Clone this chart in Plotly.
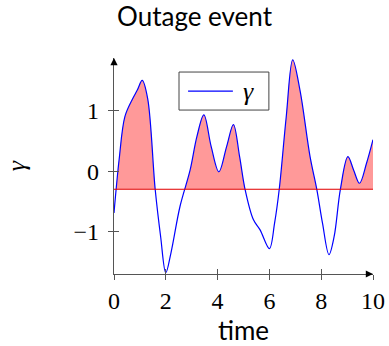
import plotly.graph_objects as go

# ---- data ----
t = [0, 0.2, 0.42, 0.7, 0.9, 1.09, 1.3, 1.59, 1.8, 2.0, 2.2, 2.55, 2.94, 3.2,
     3.47, 3.75, 4.05, 4.35, 4.61, 4.85, 5.06, 5.38, 5.64, 6.0, 6.2, 6.38,
     6.65, 6.9, 7.18, 7.57, 7.83, 8.05, 8.3, 8.5, 8.74, 9.03, 9.25, 9.48,
     9.75, 10]
gamma = [-0.69, 0.2, 0.9, 1.18, 1.34, 1.5, 1.2, -0.3, -1.08, -1.68, -1.35,
         -0.58, 0.02, 0.57, 0.93, 0.41, -0.01, 0.41, 0.77, 0.24, -0.3, -0.8,
         -0.97, -1.28, -0.86, -0.3, 0.9, 1.84, 1.34, 0.24, -0.3, -0.86, -1.38,
         -1.08, -0.3, 0.24, 0.02, -0.2, 0.13, 0.52]
threshold = -0.3
x_range = [0, 10]
y_range = [-1.70, 1.87]
x_ticks = [0, 2, 4, 6, 8, 10]
y_ticks = [-1, 0, 1]
series_name = "γ"

BLUE = "#0000ff"
PINK = "#ff9999"
RED = "#e00000"
AX = "#555555"

fig = go.Figure()
# baseline for fill
fig.add_trace(go.Scatter(x=x_range, y=[threshold, threshold], mode="lines",
                         line=dict(width=0), showlegend=False, hoverinfo="skip"))
# fill between curve and threshold
fig.add_trace(go.Scatter(x=t, y=gamma, mode="lines", line=dict(width=0, shape="spline"),
                         fill="tonexty", fillcolor=PINK, showlegend=False, hoverinfo="skip"))
# mask below threshold
fig.add_trace(go.Scatter(x=x_range, y=[y_range[0], y_range[0]], mode="lines",
                         line=dict(width=0), showlegend=False, hoverinfo="skip"))
fig.add_trace(go.Scatter(x=x_range, y=[threshold, threshold], mode="lines",
                         line=dict(width=0), fill="tonexty", fillcolor="white",
                         showlegend=False, hoverinfo="skip"))
# curve
fig.add_trace(go.Scatter(x=t, y=gamma, mode="lines", name=series_name,
                         line=dict(color=BLUE, width=1.2, shape="spline"),
                         showlegend=False))
# threshold line
fig.add_trace(go.Scatter(x=x_range, y=[threshold, threshold], mode="lines",
                         line=dict(color=RED, width=1.1), showlegend=False))
# invisible trace on overlay axes (for crossing tick marks)
fig.add_trace(go.Scatter(x=[x_range[0]], y=[y_range[0]], xaxis="x2", yaxis="y2",
                         mode="markers", marker=dict(opacity=0), showlegend=False,
                         hoverinfo="skip"))

serif = "Liberation Serif"
sans = "Lato"

fig.update_layout(
    width=389, height=346,
    margin=dict(l=114, r=16, t=58, b=72, autoexpand=False),
    paper_bgcolor="white", plot_bgcolor="white",
    title=dict(text="Outage event", x=0.5, xanchor="center", y=0.95, yanchor="middle",
               font=dict(family=sans, size=26, color="black")),
    xaxis=dict(range=x_range, tickvals=x_ticks, showgrid=False, zeroline=False,
               showline=True, linecolor=AX, linewidth=1.2, ticks="outside",
               ticklen=5, tickcolor=AX, tickwidth=1, automargin=False,
               tickfont=dict(family=serif, size=24, color="black"),
               title=dict(text="time", font=dict(family=sans, size=26, color="black"),
                          standoff=14)),
    yaxis=dict(range=y_range, tickvals=y_ticks, showgrid=False, zeroline=False,
               showline=True, linecolor=AX, linewidth=1.2, ticks="outside",
               ticklen=5, tickcolor=AX, tickwidth=1, automargin=False,
               ticklabelstandoff=4,
               tickfont=dict(family=serif, size=24, color="black"),
               title=dict(text="<i>γ</i>", font=dict(family=serif, size=26, color="black"),
                          standoff=40)),
    xaxis2=dict(range=x_range, tickvals=x_ticks, overlaying="x", anchor="y2",
                showgrid=False, zeroline=False, showline=False, ticks="inside",
                ticklen=5, tickcolor=AX, tickwidth=1, showticklabels=False),
    yaxis2=dict(range=y_range, tickvals=y_ticks, overlaying="y", anchor="x2",
                showgrid=False, zeroline=False, showline=False, ticks="inside",
                ticklen=5, tickcolor=AX, tickwidth=1, showticklabels=False),
    showlegend=False,
)

# manual legend box
fig.add_shape(type="rect", xref="paper", yref="paper", x0=0.251, x1=0.598, y0=0.759, y1=0.935,
              line=dict(color="#444444", width=1), fillcolor="white", layer="above")
fig.add_shape(type="line", xref="paper", yref="paper", x0=0.286, x1=0.459, y0=0.847, y1=0.847,
              line=dict(color=BLUE, width=1.2), layer="above")
fig.add_annotation(x=0.52, y=0.847, xref="paper", yref="paper", text="<i>" + series_name + "</i>",
                   showarrow=False, xanchor="center", yanchor="middle",
                   font=dict(family=serif, size=26, color="black"))

# axis arrows
fig.add_annotation(x=x_range[1], y=y_range[0], ax=-8, ay=0, xref="x", yref="y",
                   showarrow=True, arrowhead=2, arrowsize=1.2, arrowwidth=1.2,
                   arrowcolor="black", text="")
fig.add_annotation(x=x_range[0], y=y_range[1], ax=0, ay=8, xref="x", yref="y",
                   showarrow=True, arrowhead=2, arrowsize=1.2, arrowwidth=1.2,
                   arrowcolor="black", text="")

fig.write_html("out.html", config={"displayModeBar": False},
               post_script="document.body.style.margin='0';document.body.style.overflow='hidden';")
